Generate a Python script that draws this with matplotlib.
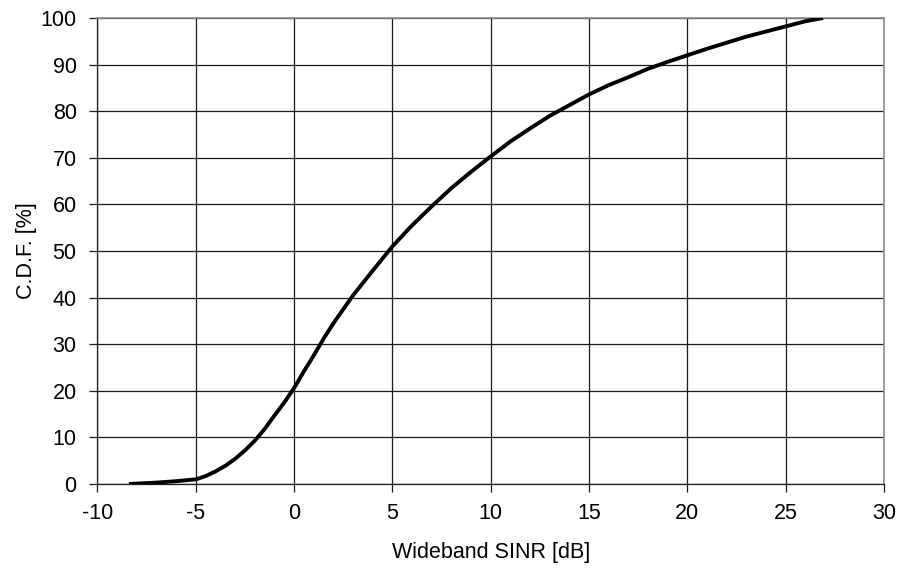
import matplotlib
matplotlib.use("Agg")
import matplotlib.pyplot as plt

plt.rcParams['font.family'] = ['Liberation Sans', 'DejaVu Sans']
plt.rcParams['axes.unicode_minus'] = False

sinr_db = [-8.4, -7, -6, -5, -4.5, -4, -3.5, -3, -2.5, -2, -1.5, -1, -0.5, 0, 0.5, 1, 1.5,
           2, 2.5, 3, 4, 5, 6, 7, 8, 9, 10, 11, 12, 13, 14, 15, 16, 17, 18, 19, 20,
           21, 22, 23, 24, 25, 26, 26.9]
cdf_pct = [0, 0.3, 0.6, 1.0, 1.7, 2.7, 3.9, 5.4, 7.2, 9.3, 11.8, 14.7, 17.5, 20.6, 24.2, 27.6, 31.2,
           34.5, 37.5, 40.5, 45.8, 51.0, 55.5, 59.6, 63.5, 67.0, 70.3, 73.5, 76.3, 79.0, 81.3, 83.6,
           85.6, 87.3, 89.1, 90.6, 92.0, 93.4, 94.7, 96.0, 97.1, 98.2, 99.3, 100]

x_ticks = [-10, -5, 0, 5, 10, 15, 20, 25, 30]
y_ticks = [0, 10, 20, 30, 40, 50, 60, 70, 80, 90, 100]

fig = plt.figure(figsize=(9.03, 5.77), dpi=100)
ax = fig.add_axes([97.5 / 903, 1 - 484 / 577, (884 - 97.5) / 903, (484 - 18) / 577])
ax.plot(sinr_db, cdf_pct, color='black', lw=2.8, solid_capstyle='butt', zorder=3)
ax.set_xlim(-10, 30)
ax.set_ylim(0, 100)
ax.set_xticks(x_ticks)
ax.set_yticks(y_ticks)
ax.grid(True, color='#1a1a1a', lw=0.9)
ax.set_axisbelow(True)
ax.tick_params(direction='out', length=6, width=0.9, color='#1a1a1a', labelsize=15.5)
ax.tick_params(axis='y', pad=9)
ax.tick_params(axis='x', pad=8)
for side in ['left', 'bottom']:
    ax.spines[side].set_color('#1a1a1a')
    ax.spines[side].set_linewidth(0.9)
for side in ['top', 'right']:
    ax.spines[side].set_color('#8c8c8c')
    ax.spines[side].set_linewidth(1.2)
ax.set_xlabel('Wideband SINR [dB]', fontsize=15.5, labelpad=12.5)
ax.set_ylabel('C.D.F. [%]', fontsize=15.5, labelpad=2.5)
fig.savefig('out.png', dpi=100)
